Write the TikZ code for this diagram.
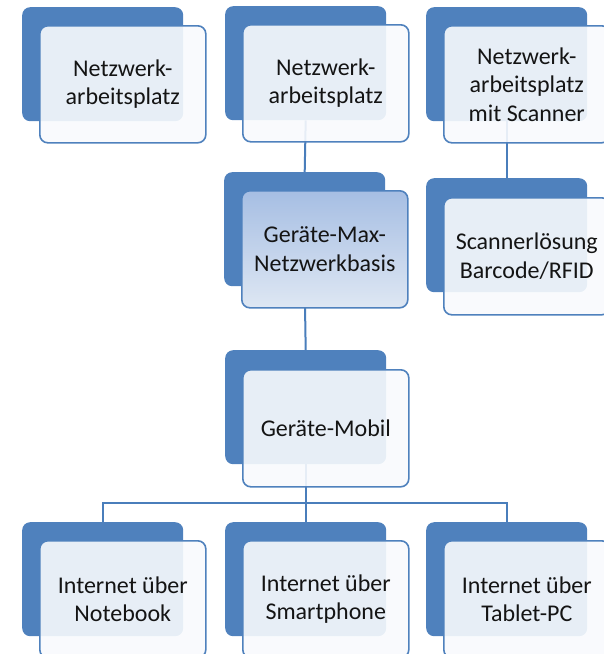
\documentclass[tikz,border=0pt]{standalone}
\usepackage{fontspec}
\setmainfont{Carlito}
\usepackage{tikz}
\usetikzlibrary{backgrounds}
\definecolor{boxblue}{RGB}{79,129,189}
\definecolor{lineblue}{RGB}{74,126,187}
\definecolor{paleblue}{RGB}{248,250,253}
\definecolor{maxtop}{RGB}{166,190,227}
\definecolor{maxbot}{RGB}{222,231,243}

\begin{document}
\begin{tikzpicture}[x=1pt,y=-1pt,
    back/.style={shape=rectangle, rounded corners=8pt, fill=boxblue, anchor=north west,
      minimum width=161pt, minimum height=114pt, inner sep=0pt, node contents=},
    front/.style={shape=rectangle, rounded corners=8pt, draw=boxblue, line width=1.6pt,
      fill=paleblue, fill opacity=0.9, text opacity=1, anchor=north west,
      minimum width=166pt, minimum height=117pt, inner sep=0pt, align=center,
      font=\fontsize{24}{28.5}\selectfont, text=black!92},
    maxfront/.style={front, fill opacity=1, top color=maxtop, bottom color=maxbot},
    conn/.style={draw=lineblue, line width=2pt}]
    \useasboundingbox (0,0) rectangle (604,654);

    % top row
    \node (nw1b) at (22,7) [back];
    \node[front] (nw1) at (39,25) {Netzwerk-\\arbeitsplatz};
    \node (nw2b) at (225,6) [back];
    \node[front] (nw2) at (242,24) {Netzwerk-\\arbeitsplatz};
    \node (nw3b) at (426,7) [back];
    \node[front] (nw3) at (443,25) {Netzwerk-\\arbeitsplatz\\mit Scanner};

    % middle
    \node (maxb) at (224,172) [back];
    \node[maxfront] (max) at (241,190) {Geräte-Max-\\Netzwerkbasis};
    \node (scanb) at (426,178) [back];
    \node[front] (scan) at (443,197) {Scannerlösung\\Barcode/RFID};
    \node (mobb) at (225,350) [back];
    \node[front] (mob) at (242,369) {Geräte-Mobil};

    % bottom row
    \node (inb1b) at (22,522) [back];
    \node[front] (inb1) at (39,540) {Internet über\\Notebook};
    \node (inb2b) at (225,522) [back];
    \node[front] (inb2) at (242,540) {Internet über\\Smartphone};
    \node (inb3b) at (426,522) [back];
    \node[front] (inb3) at (443,540) {Internet über\\Tablet-PC};

    \coordinate (bus) at (305.5,503);
    \begin{scope}[on background layer]
      \draw[conn] (nw2b.south) -- (maxb.north);
      \draw[conn] (nw3b.south) -- (scanb.north);
      \draw[conn] (maxb.south) -- (mobb.north);
      \draw[conn] (mobb.south) -- (inb2b.north);
      \draw[conn] (inb1b.north) |- (bus) -| (inb3b.north);
    \end{scope}
  \end{tikzpicture}
\end{document}
